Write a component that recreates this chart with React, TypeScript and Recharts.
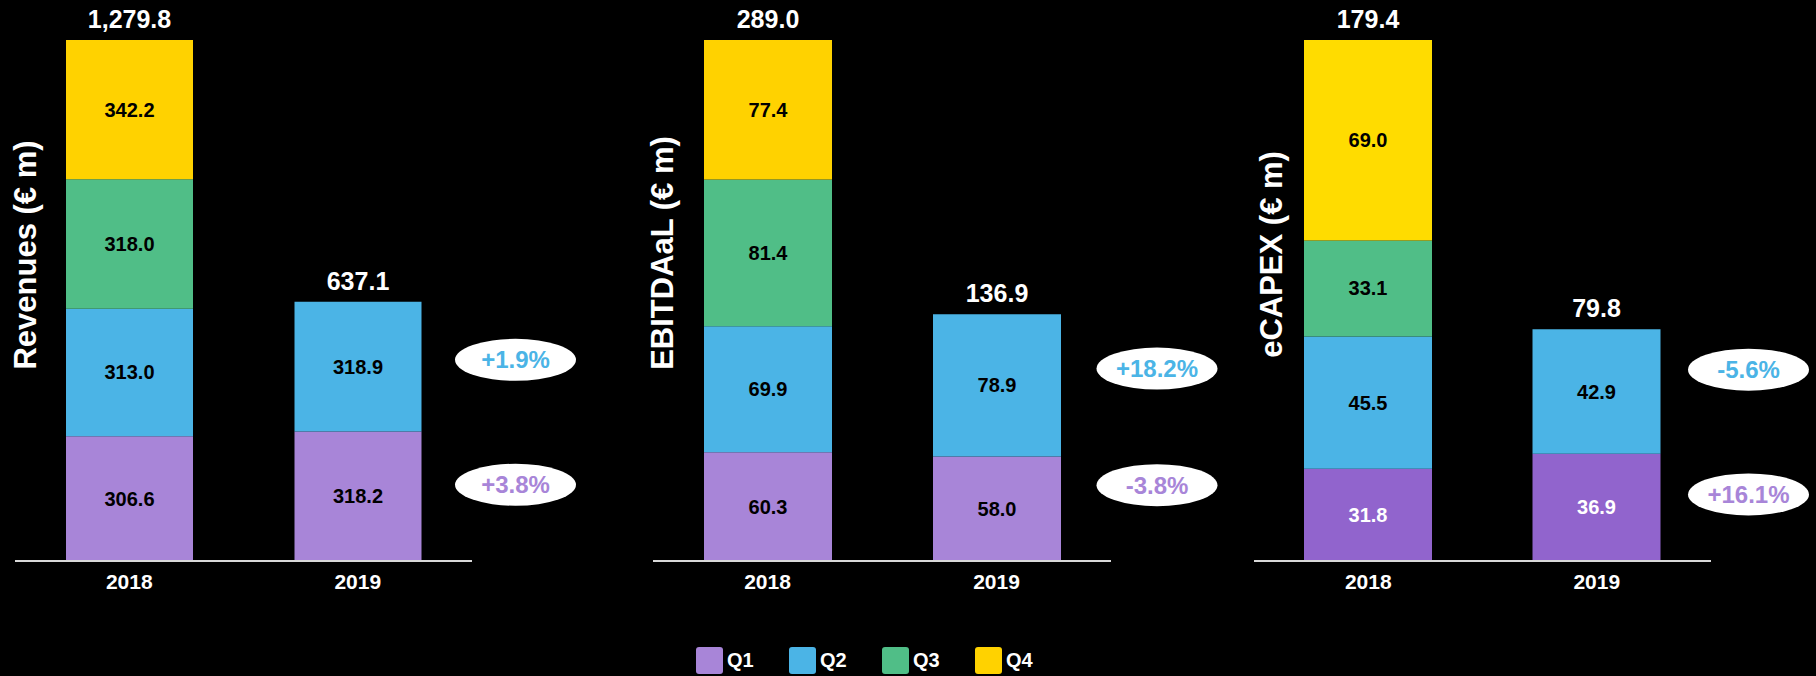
import { Bar, BarChart, LabelList, XAxis, YAxis } from "recharts";

const years = ["2018", "2019"];
const quarters = ["Q1", "Q2", "Q3", "Q4"];

const revenuesQ1 = [306.6, 318.2];
const revenuesQ2 = [313.0, 318.9];
const revenuesQ3 = [318.0, null];
const revenuesQ4 = [342.2, null];
const revenuesTotal = [1279.8, 637.1];
const revenuesChange = ["+3.8%", "+1.9%"]; // Q1, Q2 vs prior year

const ebitdaalQ1 = [60.3, 58.0];
const ebitdaalQ2 = [69.9, 78.9];
const ebitdaalQ3 = [81.4, null];
const ebitdaalQ4 = [77.4, null];
const ebitdaalTotal = [289.0, 136.9];
const ebitdaalChange = ["-3.8%", "+18.2%"];

const ecapexQ1 = [31.8, 36.9];
const ecapexQ2 = [45.5, 42.9];
const ecapexQ3 = [33.1, null];
const ecapexQ4 = [69.0, null];
const ecapexTotal = [179.4, 79.8];
const ecapexChange = ["+16.1%", "-5.6%"];

const FONT = '"Liberation Sans", Arial, Helvetica, sans-serif';
const PURPLE = "#A885D8";
const BLUE = "#4BB4E6";
const GREEN = "#50BE87";
const YELLOW = "#FFD200";

const legendColors = [PURPLE, BLUE, GREEN, YELLOW];

type Val = number | null;

interface PanelProps {
  title: string;
  q1: Val[];
  q2: Val[];
  q3: Val[];
  q4: Val[];
  total: number[];
  change: string[];
  left: number;
  width: number;
  axisWidth: number;
  marginRight: number;
  barSize: number;
  titleDx: number;
  titleDy: number;
  pillDx: number;
  pillDy: number[];
  q1Color: string;
  q1Text: string;
  q4Color: string;
}

const box = (props: any) => {
  const vb = props.viewBox ?? props;
  return { x: +vb.x, y: +vb.y, w: +vb.width, h: +vb.height };
};

const Panel = (p: PanelProps) => {
  const data = years.map((year, i) => ({
    year,
    Q1: p.q1[i],
    Q2: p.q2[i],
    Q3: p.q3[i],
    Q4: p.q4[i],
  }));
  const colors = [p.q1Color, BLUE, GREEN, p.q4Color];
  const textColors = [p.q1Text, "#000", "#000", "#000"];
  const topKey = (i: number) => {
    const row: any = data[i];
    let k = "";
    quarters.forEach((q) => {
      if (row[q] != null) k = q;
    });
    return k;
  };

  const segLabel = (color: string) => (props: any) => {
    if (props.value == null) return null;
    const { x, y, w, h } = box(props);
    return (
      <text
        x={x + w / 2}
        y={y + h / 2}
        textAnchor="middle"
        dominantBaseline="central"
        fill={color}
        fontSize={20}
        fontWeight={700}
        fontFamily={FONT}
      >
        {Number(props.value).toFixed(1)}
      </text>
    );
  };

  const totalLabel = (key: string) => (props: any) => {
    if (props.value == null || topKey(props.index) !== key) return null;
    const { x, y, w } = box(props);
    return (
      <text
        x={x + w / 2}
        y={y - 12}
        textAnchor="middle"
        fill="#fff"
        fontSize={25}
        fontWeight={700}
        fontFamily={FONT}
      >
        {p.total[props.index].toLocaleString("en-US", {
          minimumFractionDigits: 1,
          maximumFractionDigits: 1,
        })}
      </text>
    );
  };

  const pillLabel = (qi: number, color: string) => (props: any) => {
    if (props.index !== 1) return null;
    const { x, y, w, h } = box(props);
    const cx = x + w + p.pillDx;
    const cy = y + h / 2 + p.pillDy[qi];
    return (
      <g>
        <ellipse cx={cx} cy={cy} rx={60.5} ry={21} fill="#fff" />
        <text
          x={cx}
          y={cy}
          textAnchor="middle"
          dominantBaseline="central"
          fill={color}
          fontSize={24}
          fontWeight={700}
          fontFamily={FONT}
        >
          {p.change[qi]}
        </text>
      </g>
    );
  };

  return (
    <div style={{ position: "absolute", left: p.left, top: 0 }}>
      <BarChart
        width={p.width}
        height={620}
        data={data}
        margin={{ top: 40, right: p.marginRight, bottom: 19, left: 0 }}
      >
        <XAxis
          dataKey="year"
          height={40}
          axisLine={{ stroke: "#d9d9d9", strokeWidth: 2 }}
          tickLine={false}
          tick={{ fill: "#fff", fontSize: 21, fontWeight: 700, fontFamily: FONT, dy: 5 }}
        />
        <YAxis
          width={p.axisWidth}
          domain={[0, Math.max(...p.total)]}
          tick={false}
          tickLine={false}
          axisLine={false}
          label={{
            value: p.title,
            angle: -90,
            position: "center",
            dx: p.titleDx,
            dy: p.titleDy,
            fill: "#fff",
            fontSize: 31,
            fontWeight: 700,
            fontFamily: FONT,
          }}
        />
        {quarters.map((q, qi) => (
          <Bar
            key={q}
            dataKey={q}
            stackId="a"
            fill={colors[qi]}
            barSize={p.barSize}
            isAnimationActive={false}
          >
            <LabelList dataKey={q} content={segLabel(textColors[qi])} />
            <LabelList dataKey={q} content={totalLabel(q)} />
            {qi < 2 && (
              <LabelList dataKey={q} content={pillLabel(qi, qi === 0 ? PURPLE : BLUE)} />
            )}
          </Bar>
        ))}
      </BarChart>
    </div>
  );
};

export default function App() {
  return (
    <div
      style={{
        position: "absolute",
        left: 0,
        top: 0,
        width: 1816,
        height: 676,
        background: "#000",
        fontFamily: FONT,
        overflow: "hidden",
      }}
    >
      <Panel
        title="Revenues (€ m)"
        q1={revenuesQ1}
        q2={revenuesQ2}
        q3={revenuesQ3}
        q4={revenuesQ4}
        total={revenuesTotal}
        change={revenuesChange}
        left={0}
        width={620}
        axisWidth={15}
        marginRight={148}
        barSize={127}
        titleDx={17.8}
        titleDy={-45.5}
        pillDx={94}
        pillDy={[-11.5, -6.7]}
        q1Color={PURPLE}
        q1Text="#000"
        q4Color={YELLOW}
      />
      <Panel
        title="EBITDAaL (€ m)"
        q1={ebitdaalQ1}
        q2={ebitdaalQ2}
        q3={ebitdaalQ3}
        q4={ebitdaalQ4}
        total={ebitdaalTotal}
        change={ebitdaalChange}
        left={620}
        width={620}
        axisWidth={33}
        marginRight={129}
        barSize={128}
        titleDx={25}
        titleDy={-47.5}
        pillDx={96}
        pillDy={[-23.5, -16.7]}
        q1Color={PURPLE}
        q1Text="#000"
        q4Color={YELLOW}
      />
      <Panel
        title="eCAPEX (€ m)"
        q1={ecapexQ1}
        q2={ecapexQ2}
        q3={ecapexQ3}
        q4={ecapexQ4}
        total={ecapexTotal}
        change={ecapexChange}
        left={1230}
        width={586}
        axisWidth={24}
        marginRight={105}
        barSize={128}
        titleDx={28.7}
        titleDy={-46}
        pillDx={88}
        pillDy={[-13, -21.9]}
        q1Color="#9164CD"
        q1Text="#fff"
        q4Color="#FFDC00"
      />
      <div
        style={{
          position: "absolute",
          left: 696,
          top: 647,
          display: "flex",
          alignItems: "center",
        }}
      >
        {quarters.map((q, i) => (
          <div key={q} style={{ display: "flex", alignItems: "center", width: 93 }}>
            <div
              style={{
                width: 27,
                height: 27,
                borderRadius: 3,
                background: legendColors[i],
                marginRight: 4,
              }}
            />
            <span style={{ color: "#fff", fontSize: 20, fontWeight: 700 }}>{q}</span>
          </div>
        ))}
      </div>
    </div>
  );
}
